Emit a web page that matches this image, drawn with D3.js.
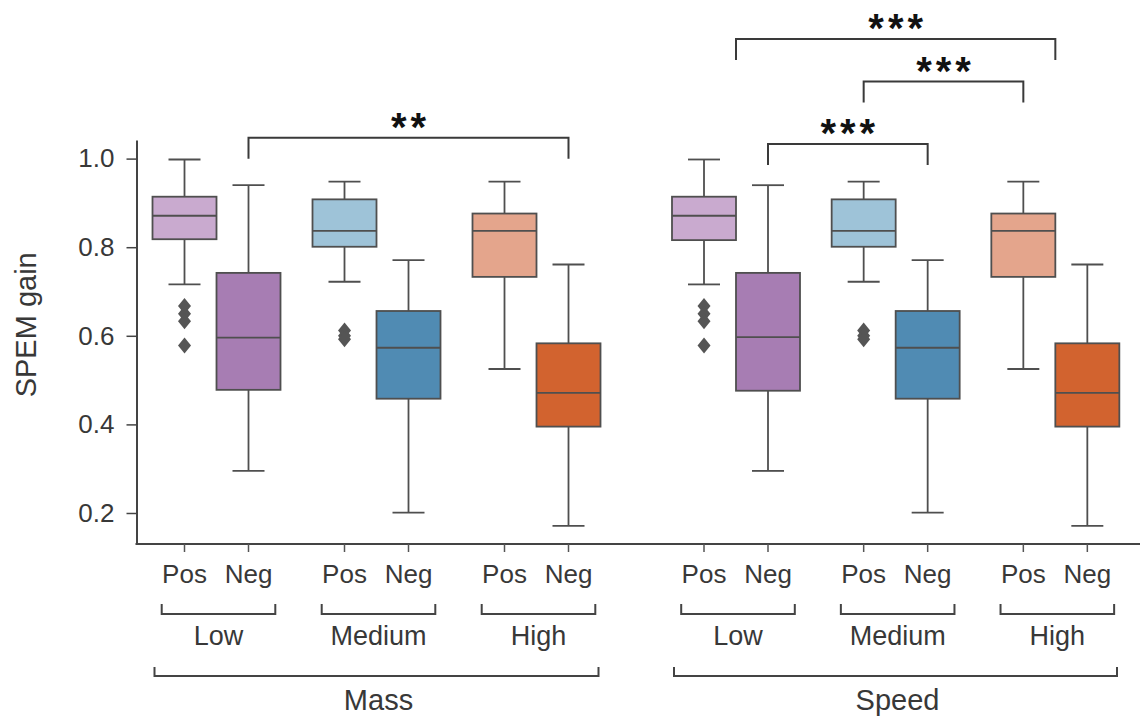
<!DOCTYPE html>
<html>
<head>
<meta charset="utf-8">
<script src="https://cdn.jsdelivr.net/npm/d3@7"></script>
<style>
  body { margin: 0; background: #fff; }
  svg { display: block; font-family: "Liberation Sans", Arial, sans-serif; }
</style>
</head>
<body>
<div id="chart"></div>
<script>
// categories
const panels = ["Mass", "Speed"];
const groups = ["Low", "Medium", "High"];
const hues = ["Pos", "Neg"];
const yTicks = [0.2, 0.4, 0.6, 0.8, 1.0];

// box statistics (whisker low, q1, median, q3, whisker high, outliers)
const massBoxes = [
  { group: "Low", hue: "Pos", lo: 0.716, q1: 0.818, med: 0.871, q3: 0.914, hi: 0.998, out: [0.667, 0.650, 0.633, 0.578] },
  { group: "Low", hue: "Neg", lo: 0.295, q1: 0.478, med: 0.596, q3: 0.742, hi: 0.940, out: [] },
  { group: "Medium", hue: "Pos", lo: 0.722, q1: 0.801, med: 0.837, q3: 0.908, hi: 0.948, out: [0.612, 0.600, 0.592] },
  { group: "Medium", hue: "Neg", lo: 0.201, q1: 0.458, med: 0.573, q3: 0.656, hi: 0.771, out: [] },
  { group: "High", hue: "Pos", lo: 0.525, q1: 0.733, med: 0.837, q3: 0.876, hi: 0.948, out: [] },
  { group: "High", hue: "Neg", lo: 0.171, q1: 0.395, med: 0.471, q3: 0.583, hi: 0.761, out: [] }
];
const speedBoxes = [
  { group: "Low", hue: "Pos", lo: 0.716, q1: 0.816, med: 0.871, q3: 0.914, hi: 0.998, out: [0.667, 0.650, 0.633, 0.578] },
  { group: "Low", hue: "Neg", lo: 0.295, q1: 0.476, med: 0.597, q3: 0.742, hi: 0.940, out: [] },
  { group: "Medium", hue: "Pos", lo: 0.722, q1: 0.801, med: 0.837, q3: 0.908, hi: 0.948, out: [0.612, 0.600, 0.592] },
  { group: "Medium", hue: "Neg", lo: 0.201, q1: 0.458, med: 0.573, q3: 0.656, hi: 0.771, out: [] },
  { group: "High", hue: "Pos", lo: 0.525, q1: 0.733, med: 0.837, q3: 0.876, hi: 0.948, out: [] },
  { group: "High", hue: "Neg", lo: 0.171, q1: 0.395, med: 0.471, q3: 0.583, hi: 0.761, out: [] }
];

// significance brackets (hue null = group centre)
const sigBrackets = [
  { panel: "Mass", from: ["Low", "Neg"], to: ["High", "Neg"], level: 1.047, label: "**" },
  { panel: "Speed", from: ["Low", "Neg"], to: ["Medium", "Neg"], level: 1.033, label: "***" },
  { panel: "Speed", from: ["Medium", "Pos"], to: ["High", "Pos"], level: 1.174, label: "***" },
  { panel: "Speed", from: ["Low", null], to: ["High", null], level: 1.270, label: "***" }
];

const palette = {
  Low: ["#c9aacf", "#a77db3"],
  Medium: ["#9ec3d8", "#508bb3"],
  High: ["#e4a58c", "#d2632f"]
};

const width = 1140, height = 722;
const lineColor = "#4f4f4f";
const textColor = "#383838";

const svg = d3.select("#chart").append("svg")
  .attr("width", width)
  .attr("height", height);

const y = d3.scaleLinear().domain([0.13, 1.042]).range([544, 140]);

const panelRange = { Mass: [136.5, 616.5], Speed: [656, 1135] };
const panelData = { Mass: massBoxes, Speed: speedBoxes };

const xGroup = {};
panels.forEach((p) => {
  xGroup[p] = d3.scaleBand().domain(groups).range(panelRange[p]).paddingInner(0).paddingOuter(0);
});
const bw = xGroup.Mass.bandwidth();
const xHue = d3.scaleBand().domain(hues).range([0.1 * bw, 0.9 * bw]);

function cx(panel, group, hue) {
  if (hue == null) return xGroup[panel](group) + bw / 2;
  return xGroup[panel](group) + xHue(hue) + xHue.bandwidth() / 2;
}

// y axis
const yAxisG = svg.append("g")
  .attr("transform", `translate(${panelRange.Mass[0]},0)`)
  .call(d3.axisLeft(y).tickValues(yTicks).tickFormat(d3.format(".1f")).tickSize(10).tickPadding(12).tickSizeOuter(0));
yAxisG.select(".domain").attr("stroke", "#444").attr("stroke-width", 2);
yAxisG.selectAll(".tick line").attr("stroke", "#444").attr("stroke-width", 1.5);
yAxisG.selectAll(".tick text").attr("fill", textColor).style("font-size", "26px");

svg.append("text")
  .attr("transform", `translate(36,${y(0.6) - 11}) rotate(-90)`)
  .attr("text-anchor", "middle")
  .attr("fill", textColor)
  .style("font-size", "29px")
  .text("SPEM gain");

// bottom spine across both panels
svg.append("line")
  .attr("x1", panelRange.Mass[0] - 1).attr("x2", width)
  .attr("y1", y.range()[0]).attr("y2", y.range()[0])
  .attr("stroke", "#444").attr("stroke-width", 2);

const diamond = "M0,-8L6.5,0L0,8L-6.5,0Z";

panels.forEach((p) => {
  const g = svg.append("g").attr("class", "panel-" + p);
  const boxW = xHue.bandwidth();

  // x ticks per group
  groups.forEach((grp) => {
    const ax = g.append("g")
      .attr("transform", `translate(${xGroup[p](grp)},${y.range()[0]})`)
      .call(d3.axisBottom(xHue).tickSize(8).tickPadding(13));
    ax.select(".domain").remove();
    ax.selectAll(".tick line").attr("stroke", "#555").attr("stroke-width", 1.5);
    ax.selectAll(".tick text").attr("fill", textColor).style("font-size", "26px");
  });

  const boxes = g.selectAll("g.box")
    .data(panelData[p])
    .join("g")
    .attr("class", "box")
    .attr("transform", (d) => `translate(${cx(p, d.group, d.hue)},0)`);

  // whiskers
  boxes.append("line")
    .attr("y1", (d) => y(d.hi)).attr("y2", (d) => y(d.q3))
    .attr("stroke", lineColor).attr("stroke-width", 1.8);
  boxes.append("line")
    .attr("y1", (d) => y(d.q1)).attr("y2", (d) => y(d.lo))
    .attr("stroke", lineColor).attr("stroke-width", 1.8);
  boxes.append("line")
    .attr("x1", -boxW / 4).attr("x2", boxW / 4)
    .attr("y1", (d) => y(d.hi)).attr("y2", (d) => y(d.hi))
    .attr("stroke", lineColor).attr("stroke-width", 1.8);
  boxes.append("line")
    .attr("x1", -boxW / 4).attr("x2", boxW / 4)
    .attr("y1", (d) => y(d.lo)).attr("y2", (d) => y(d.lo))
    .attr("stroke", lineColor).attr("stroke-width", 1.8);

  // box
  boxes.append("rect")
    .attr("x", -boxW / 2)
    .attr("width", boxW)
    .attr("y", (d) => y(d.q3))
    .attr("height", (d) => y(d.q1) - y(d.q3))
    .attr("fill", (d) => palette[d.group][hues.indexOf(d.hue)])
    .attr("stroke", lineColor).attr("stroke-width", 1.8);

  // median
  boxes.append("line")
    .attr("x1", -boxW / 2).attr("x2", boxW / 2)
    .attr("y1", (d) => y(d.med)).attr("y2", (d) => y(d.med))
    .attr("stroke", lineColor).attr("stroke-width", 1.8);

  // outliers
  boxes.selectAll("path.out")
    .data((d) => d.out)
    .join("path")
    .attr("class", "out")
    .attr("d", diamond)
    .attr("transform", (v) => `translate(0,${y(v)})`)
    .attr("fill", "#555");

  // group brackets
  const base = y.range()[0];
  groups.forEach((grp) => {
    const c = cx(p, grp, null) + 2;
    const half = 0.355 * bw;
    const by = base + 70;
    g.append("path")
      .attr("d", `M${c - half},${by - 10}V${by}H${c + half}V${by - 10}`)
      .attr("fill", "none").attr("stroke", "#444").attr("stroke-width", 2);
    g.append("text")
      .attr("x", c).attr("y", base + 101)
      .attr("text-anchor", "middle")
      .attr("fill", textColor)
      .style("font-size", "27px")
      .text(grp);
  });

  // panel bracket
  const [r0, r1] = panelRange[p];
  const oy = base + 132;
  g.append("path")
    .attr("d", `M${r0 + 18},${oy - 9}V${oy}H${r1 - 18}V${oy - 9}`)
    .attr("fill", "none").attr("stroke", "#444").attr("stroke-width", 2);
  g.append("text")
    .attr("x", (r0 + r1) / 2 + 2).attr("y", base + 166)
    .attr("text-anchor", "middle")
    .attr("fill", textColor)
    .style("font-size", "29px")
    .text(p);
});

// significance brackets
const sig = svg.append("g").attr("class", "sig");
sigBrackets.forEach((b) => {
  const x1 = cx(b.panel, b.from[0], b.from[1]);
  const x2 = cx(b.panel, b.to[0], b.to[1]);
  const ly = y(b.level);
  sig.append("path")
    .attr("d", `M${x1},${ly + 21}V${ly}H${x2}V${ly + 21}`)
    .attr("fill", "none").attr("stroke", "#3a3a3a").attr("stroke-width", 2);
  sig.append("text")
    .attr("x", (x1 + x2) / 2 + 2)
    .attr("y", ly + 3)
    .attr("text-anchor", "middle")
    .attr("fill", "#111")
    .style("font-size", "40px")
    .style("font-weight", "bold")
    .style("letter-spacing", "4px")
    .text(b.label);
});
</script>
</body>
</html>
